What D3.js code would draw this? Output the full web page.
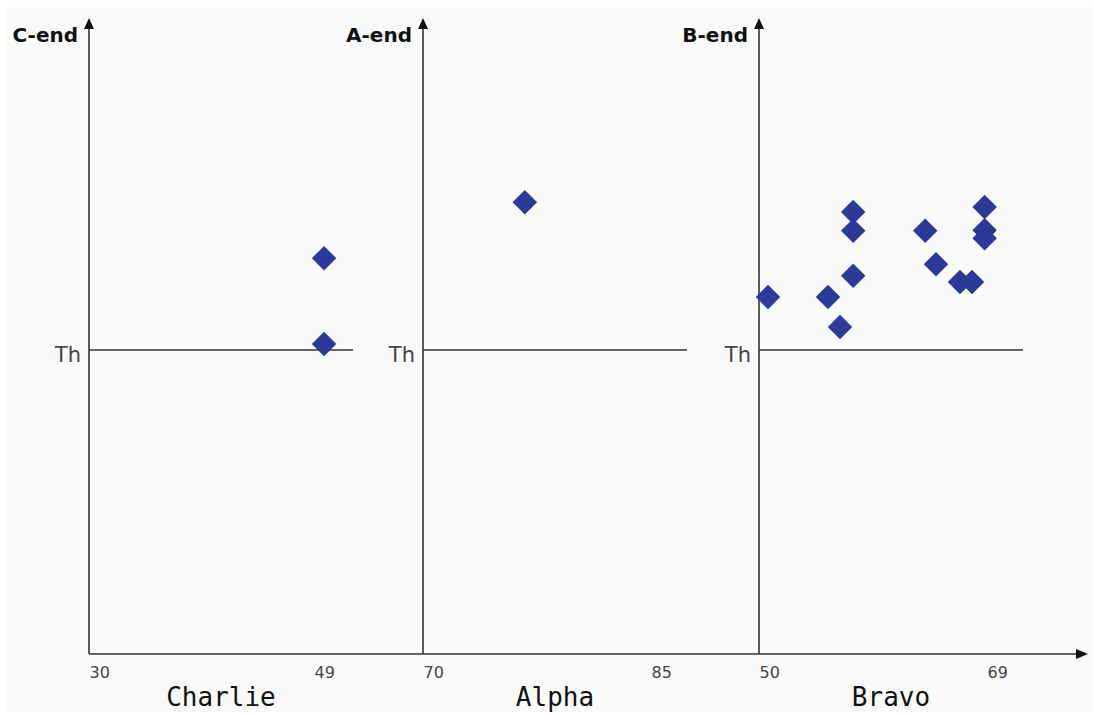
<!DOCTYPE html>
<html>
<head>
<meta charset="utf-8">
<script src="https://cdn.jsdelivr.net/npm/d3@7"></script>
<style>
  html, body { margin: 0; padding: 0; background: #ffffff; }
  svg { display: block; }
</style>
</head>
<body>
<svg id="chart" width="1093" height="715"></svg>
<script>
// ---- data ----
const panelNames = ["Charlie", "Alpha", "Bravo"];
const yAxisLabels = ["C-end", "A-end", "B-end"];
const charlieTicks = [30, 49];
const alphaTicks = [70, 85];
const bravoTicks = [50, 69];
const threshold = 50;
const thresholdLabel = "Th";

const charlieX = [49.85, 49.85];
const charlieY = [65.1, 51.0];
const alphaX = [76.7];
const alphaY = [74.3];
const bravoX = [50.75, 55.75, 56.75, 57.85, 57.85, 57.85, 63.85, 64.75, 66.75, 67.75, 68.8, 68.8, 68.8];
const bravoY = [58.7, 58.7, 53.8, 72.7, 69.6, 62.2, 69.6, 64.1, 61.2, 61.2, 73.5, 69.7, 68.4];

// ---- layout ----
const W = 1093, H = 715;
const axisY = 654, axisTop = 18, xArrowEnd = 1088;
const panelLeft = [89, 423, 759];
const tickSpan = [225, 228, 228];
const panelWidth = 264;
const ink = "#333";
const markColor = "#2b3a98";

const svg = d3.select("#chart");
svg.append("rect").attr("x", 7).attr("y", 7).attr("width", W - 7).attr("height", H - 10)
  .attr("fill", "#fafafa");

const y = d3.scaleLinear().domain([0, 100]).range([axisY, 46]);

const ticks = [charlieTicks, alphaTicks, bravoTicks];
const xs = [charlieX, alphaX, bravoX];
const ys = [charlieY, alphaY, bravoY];

// x axis baseline with arrow
svg.append("line").attr("x1", panelLeft[0]).attr("x2", xArrowEnd - 8)
  .attr("y1", axisY).attr("y2", axisY).attr("stroke", ink).attr("stroke-width", 1.6);
svg.append("path")
  .attr("d", `M${xArrowEnd},${axisY} L${xArrowEnd - 12},${axisY - 5} L${xArrowEnd - 12},${axisY + 5} Z`)
  .attr("fill", "#111");

panelNames.forEach((name, i) => {
  const left = panelLeft[i];
  const x = d3.scaleLinear().domain(ticks[i]).range([left, left + tickSpan[i]]);
  const g = svg.append("g");

  // y axis line with arrow
  g.append("line").attr("x1", left).attr("x2", left)
    .attr("y1", axisY).attr("y2", axisTop + 8).attr("stroke", ink).attr("stroke-width", 1.6);
  g.append("path")
    .attr("d", `M${left},${axisTop} L${left - 5},${axisTop + 11} L${left + 5},${axisTop + 11} Z`)
    .attr("fill", "#111");

  // y label
  g.append("text").attr("x", left - 11).attr("y", 42)
    .attr("text-anchor", "end")
    .attr("font-family", "DejaVu Sans, sans-serif").attr("font-weight", "bold")
    .attr("font-size", 20).attr("fill", "#111")
    .text(yAxisLabels[i]);

  // threshold line
  g.append("line").attr("x1", left).attr("x2", left + panelWidth)
    .attr("y1", y(threshold)).attr("y2", y(threshold))
    .attr("stroke", ink).attr("stroke-width", 1.6);
  g.append("text").attr("x", left - 8).attr("y", y(threshold) + 12)
    .attr("text-anchor", "end")
    .attr("font-family", "DejaVu Sans, sans-serif")
    .attr("font-size", 21).attr("fill", "#444")
    .text(thresholdLabel);

  // bottom tick labels
  const ax = d3.axisBottom(x).tickValues(ticks[i]).tickSize(0).tickPadding(13)
    .tickFormat(d3.format("d"));
  const axg = g.append("g").attr("transform", `translate(0,${axisY})`).call(ax);
  axg.select(".domain").remove();
  axg.selectAll("text").attr("text-anchor", "start")
    .attr("font-family", "DejaVu Sans, sans-serif").attr("font-size", 16).attr("fill", "#444");

  // panel name
  g.append("text").attr("x", left + panelWidth / 2).attr("y", 706)
    .attr("text-anchor", "middle")
    .attr("font-family", "DejaVu Sans Mono, monospace")
    .attr("font-size", 26).attr("fill", "#111")
    .text(name);

  // points
  g.selectAll("path.pt").data(xs[i].map((v, k) => [v, ys[i][k]])).join("path")
    .attr("class", "pt")
    .attr("transform", d => `translate(${x(d[0])},${y(d[1])}) rotate(45)`)
    .attr("d", d3.symbol().type(d3.symbolSquare).size(300))
    .attr("fill", markColor);
});
</script>
</body>
</html>
